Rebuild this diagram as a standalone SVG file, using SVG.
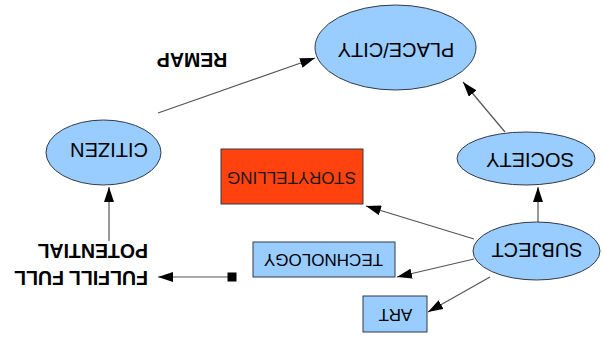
<svg xmlns="http://www.w3.org/2000/svg" width="605" height="338" viewBox="0 0 605 338">
<defs>
<marker id="ah" markerUnits="userSpaceOnUse" markerWidth="16" markerHeight="10" refX="15" refY="5" orient="auto">
<path d="M0,0 L15,5 L0,10 z" fill="#000"/>
</marker>
<marker id="sq" markerUnits="userSpaceOnUse" markerWidth="10" markerHeight="10" refX="4.5" refY="4.5" orient="auto">
<rect x="0" y="0" width="9" height="9" fill="#000"/>
</marker>
</defs>
<style>
.el{fill:#99ccff;stroke:#333a44;stroke-width:1}
.bx{fill:#99ccff;stroke:#333a44;stroke-width:1}
.t{font-family:"Liberation Sans",Arial,sans-serif;fill:#000;text-anchor:middle}
.b{font-family:"Liberation Sans",Arial,sans-serif;fill:#000;font-weight:bold}
.c{stroke:#555;stroke-width:1.2;fill:none;marker-end:url(#ah)}
</style>
<rect width="605" height="338" fill="#fff"/>
<g id="connectors">
<line class="c" x1="158" y1="113" x2="315" y2="58"/>
<line class="c" x1="505" y1="132" x2="463" y2="82"/>
<line class="c" x1="538" y1="222" x2="538" y2="187"/>
<line class="c" x1="109" y1="241" x2="109" y2="187"/>
<line class="c" x1="232" y1="277" x2="158" y2="277" style="marker-start:url(#sq)"/>
<line class="c" x1="474" y1="239" x2="366" y2="206"/>
<line class="c" x1="474" y1="259" x2="397" y2="277"/>
<line class="c" x1="490" y1="277" x2="428" y2="312"/>
</g>
<g id="place-city">
<ellipse class="el" cx="395.5" cy="47.5" rx="80.5" ry="42.5"/>
<text class="t" font-size="20" x="396" y="57.7" transform="rotate(180 396 50.5)">PLACE/CITY</text>
</g>
<g id="citizen">
<ellipse class="el" cx="103.5" cy="152.5" rx="57.5" ry="32.5"/>
<text class="t" font-size="20" x="109" y="157.2" transform="rotate(180 109 150)">CITIZEN</text>
</g>
<g id="society">
<ellipse class="el" cx="526" cy="158.5" rx="69" ry="26.5"/>
<text class="t" font-size="20" x="530" y="167.7" transform="rotate(180 530 160.5)">SOCIETY</text>
</g>
<g id="subject">
<ellipse class="el" cx="536.5" cy="251" rx="63.5" ry="29"/>
<text class="t" font-size="20" x="537" y="257.7" transform="rotate(180 537 250.5)">SUBJECT</text>
</g>
<g id="storytelling">
<rect class="bx" x="221" y="149" width="142" height="55" style="fill:#ff420e"/>
<text class="t" font-size="17" x="291.5" y="184.6" transform="rotate(180 291.5 178.5)" style="fill:#1a1a1a">STORYTELLING</text>
</g>
<g id="technology">
<rect class="bx" x="253" y="242" width="142" height="35"/>
<text class="t" font-size="17" x="323.5" y="266.1" transform="rotate(180 323.5 260)">TECHNOLOGY</text>
</g>
<g id="art">
<rect class="bx" x="363" y="296" width="64" height="36"/>
<text class="t" font-size="17" x="395.5" y="321.1" transform="rotate(180 395.5 315)">ART</text>
</g>
<g id="remap">
<text class="t" font-size="19.5" font-weight="bold" x="192" y="66.5" transform="rotate(180 192 59.5)">REMAP</text>
</g>
<g id="fulfill-full-potential">
<text class="b" font-size="19.5" x="148" y="285" transform="rotate(180 148 278)">FULFILL FULL</text>
<text class="b" font-size="19.5" x="148" y="258" transform="rotate(180 148 251)">POTENTIAL</text>
</g>
</svg>
